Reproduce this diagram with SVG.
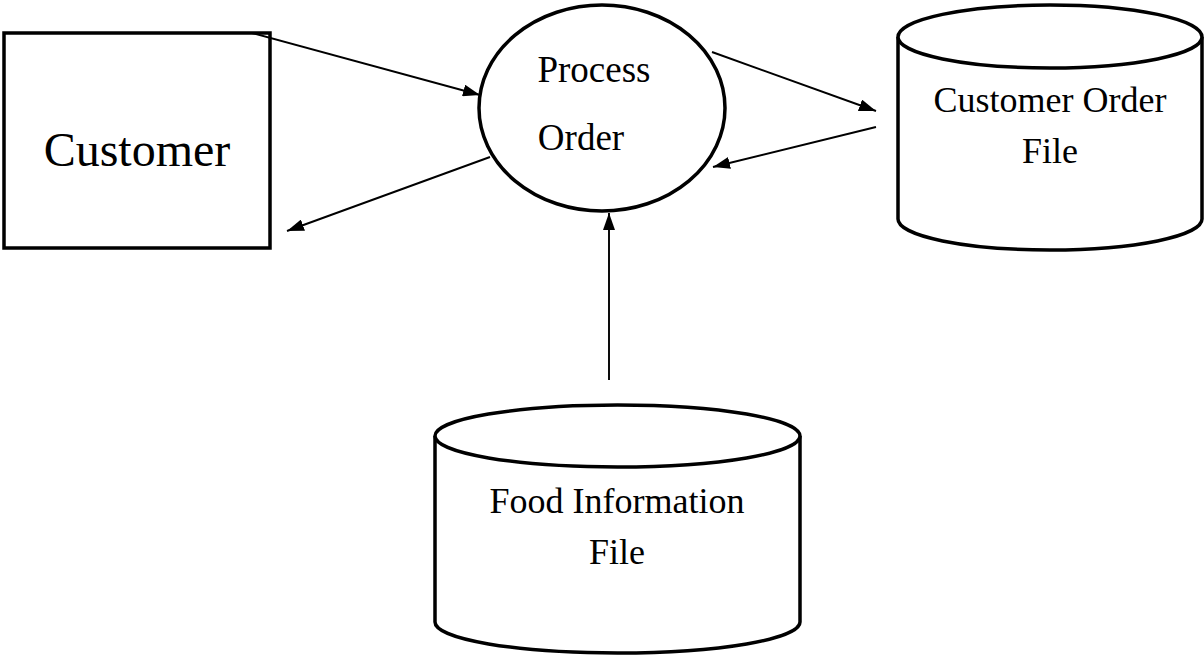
<svg xmlns="http://www.w3.org/2000/svg" width="1204" height="656" viewBox="0 0 1204 656">
<style>
.shape{fill:#fff;stroke:#000;stroke-width:3.5}
.lbl{font-family:"Liberation Serif","Times New Roman",serif;fill:#000;text-anchor:middle}
.conn{stroke:#000;stroke-width:1.9;fill:none;marker-end:url(#ah)}
</style>
<defs>
<marker id="ah" viewBox="0 0 17 12" refX="17" refY="6" markerWidth="17" markerHeight="12" markerUnits="userSpaceOnUse" orient="auto">
<path d="M0,0 L17,6 L0,12 Z" fill="#000"/>
</marker>
</defs>
<rect width="1204" height="656" fill="#fff"/>
<g id="customer">
<rect class="shape" x="4" y="33" width="266" height="215"/>
<text class="lbl" x="137" y="166" font-size="48">Customer</text>
</g>
<g id="process-order">
<ellipse class="shape" cx="602" cy="108" rx="123" ry="103"/>
<text class="lbl" x="594" y="82" font-size="37">Process</text>
<text class="lbl" x="581" y="150" font-size="37">Order</text>
</g>
<g id="customer-order-file">
<path class="shape" d="M898,37 L898,219 A152,31 0 0 0 1202,219 L1202,37 A152,32 0 0 0 898,37 Z"/>
<path class="shape" fill="none" d="M898,37 A152,31 0 0 0 1202,37"/>
<text class="lbl" x="1050" y="112" font-size="36">Customer Order</text>
<text class="lbl" x="1050" y="163" font-size="36">File</text>
</g>
<g id="food-information-file">
<path class="shape" d="M435,436 L435,622 A182.5,31 0 0 0 800,622 L800,436 A182.5,31 0 0 0 435,436 Z"/>
<path class="shape" fill="none" d="M435,436 A182.5,31 0 0 0 800,436"/>
<text class="lbl" x="617" y="513" font-size="36">Food Information</text>
<text class="lbl" x="617" y="564" font-size="36">File</text>
</g>
<g id="connectors">
<line class="conn" x1="252" y1="33" x2="480" y2="95"/>
<line class="conn" x1="490" y1="157" x2="287" y2="231"/>
<line class="conn" x1="712" y1="52" x2="876" y2="111"/>
<line class="conn" x1="876" y1="127" x2="713" y2="167"/>
<line class="conn" x1="609" y1="380" x2="609" y2="213"/>
</g>
</svg>
